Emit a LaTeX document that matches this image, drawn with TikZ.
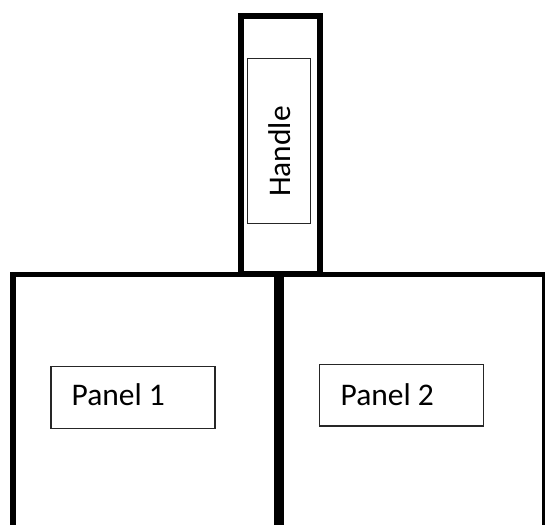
\documentclass[tikz,border=0pt]{standalone}
\usepackage{fontspec}
\setmainfont{Carlito}
\begin{document}
\begin{tikzpicture}[x=1pt,y=-1pt,
  thickline/.style={line width=5.8pt,line join=miter},
  divider/.style={line width=10pt},
  labelbox/.style={draw=black!85,line width=1.2pt,inner sep=0pt},
  labeltext/.style={font=\fontsize{31.5}{38}\selectfont,inner sep=0pt}]
\useasboundingbox (0,0) rectangle (545,524);
% handle frame and panel frame
\node[thickline,draw,inner sep=0pt,minimum width=79pt,minimum height=258pt] (handleframe) at (280.5,145) {};
\draw[thickline] (13,560) -- (13,274.5) -- (545.3,274.5) -- (545.3,560);
\coordinate (divtop) at (279.3,274.5);
\coordinate (divbot) at (279.3,560);
\draw[divider] (divtop) -- (divbot);
% handle label box
\node[labelbox,minimum width=63pt,minimum height=165pt] (handlebox) at (279,140.8) {};
\node[labeltext,rotate=90,anchor=base] (handletext) at (290.5,151.5) {Handle};
% panel label boxes
\node[labelbox,minimum width=164pt,minimum height=61.6pt] (p1box) at (133,397.5) {};
\node[labeltext,anchor=base west] (p1text) at (71.5,405.7) {Panel 1};
\node[labelbox,minimum width=164pt,minimum height=61.7pt] (p2box) at (401.3,395.2) {};
\node[labeltext,anchor=base west] (p2text) at (340.5,405) {Panel 2};
\end{tikzpicture}
\end{document}
